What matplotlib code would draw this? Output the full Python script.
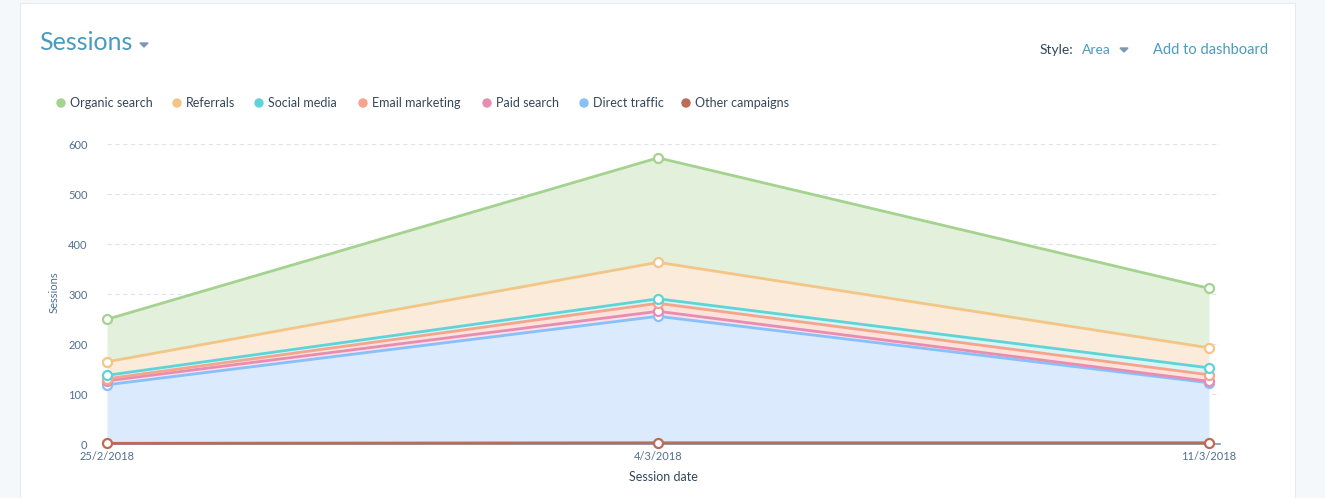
import numpy as np
import matplotlib.pyplot as plt
from matplotlib.patches import Rectangle, Polygon, Ellipse

# data (stack order bottom -> top)
dates = ['25/2/2018', '4/3/2018', '11/3/2018']
series = ['Other campaigns', 'Direct traffic', 'Paid search', 'Email marketing',
          'Social media', 'Referrals', 'Organic search']
other_campaigns = [2, 3, 3]
direct_traffic = [117, 253, 120]
paid_search = [8, 10, 3]
email_marketing = [4, 16, 13]
social_media = [7, 9, 14]
referrals = [27, 73, 40]
organic_search = [85, 209, 119]
y_ticks = [0, 100, 200, 300, 400, 500, 600]

colors = {
    'Organic search': '#a4d28f',
    'Referrals': '#f3c587',
    'Social media': '#5fd4d8',
    'Email marketing': '#f7a48c',
    'Paid search': '#e78db1',
    'Direct traffic': '#88c0fa',
    'Other campaigns': '#bc6b55',
}
fills = {
    'Organic search': '#e3f0dc',
    'Referrals': '#faebda',
    'Social media': '#d9f4f3',
    'Email marketing': '#fde3dc',
    'Paid search': '#f8dfe9',
    'Direct traffic': '#dbeafd',
    'Other campaigns': '#e9d3cd',
}
legend_order = ['Organic search', 'Referrals', 'Social media', 'Email marketing',
                'Paid search', 'Direct traffic', 'Other campaigns']

W, H = 1325, 498
fig = plt.figure(figsize=(W / 100, H / 100), dpi=100)
fig.patch.set_facecolor('#f5f8fa')
plt.rcParams['font.family'] = ['Lato', 'DejaVu Sans']


def fx(px):
    return px / W


def fy(py):
    return 1 - py / H


# white card
fig.patches.append(Rectangle((fx(20), 0), 1275 / W, 1 - 3 / H, transform=fig.transFigure,
                             facecolor='white', edgecolor='#e6ebf0', lw=0.8, zorder=-5))

ax = fig.add_axes([fx(107), fy(444.3), fx(1220) - fx(107), 300 / H])
ax.set_facecolor('none')
ax.set_zorder(2)

x = np.arange(len(dates))
data = {
    'Other campaigns': other_campaigns,
    'Direct traffic': direct_traffic,
    'Paid search': paid_search,
    'Email marketing': email_marketing,
    'Social media': social_media,
    'Referrals': referrals,
    'Organic search': organic_search,
}
base = np.zeros(len(dates))
tops = {}
for name in series:
    top = base + np.array(data[name], dtype=float)
    ax.fill_between(x, base, top, color=fills[name], lw=0, zorder=1)
    tops[name] = top
    base = top
for i, name in enumerate(series):
    ax.plot(x, tops[name], color=colors[name], lw=2, marker='o', ms=6.5,
            mfc='white', mec=colors[name], mew=1.6, zorder=3 + i, clip_on=False)

ax.set_xlim(0, 2 * (1220 - 107) / (1209 - 107))
ax.set_ylim(0, 600)
ax.set_yticks(y_ticks)
ax.set_xticks(x)
ax.set_xticklabels(dates)
ax.grid(axis='y', color='#dfe3eb', ls=(0, (4, 3)), lw=0.8)
ax.set_axisbelow(True)
for s in ['top', 'right', 'left']:
    ax.spines[s].set_visible(False)
ax.spines['bottom'].set_color('#7c98b6')
ax.spines['bottom'].set_linewidth(1.2)
ax.tick_params(axis='both', length=0, labelsize=8, labelcolor='#516f90')
ax.tick_params(axis='y', pad=14)
ax.tick_params(axis='x', pad=5)
ax.set_ylabel('Sessions', fontsize=8, color='#516f90')
ax.set_xlabel('Session date', fontsize=9, color='#33475b', labelpad=6)
ax.yaxis.set_label_coords(-(107 - 60) / (1220 - 107), (444.3 - 292) / 300)

# header
fig.text(fx(39), fy(42), 'Sessions', fontsize=18, color='#4a9bbf', va='center', ha='left')
fig.patches.append(Polygon([[fx(140), fy(43)], [fx(148), fy(43)], [fx(144), fy(47)]],
                           closed=True, transform=fig.transFigure, color='#7c98b6'))
fig.text(fx(1073), fy(50), 'Style:', fontsize=10, color='#33475b', va='center', ha='right')
fig.text(fx(1082), fy(50), 'Area', fontsize=10, color='#4a9bbf', va='center', ha='left')
fig.patches.append(Polygon([[fx(1120), fy(48)], [fx(1128), fy(48)], [fx(1124), fy(52)]],
                           closed=True, transform=fig.transFigure, color='#7c98b6'))
fig.text(fx(1153), fy(50), 'Add to dashboard', fontsize=10.5, color='#4a9bbf', va='center', ha='left')

# legend
legend_x = [61, 177, 259, 363, 487, 584, 686]
for name, lx in zip(legend_order, legend_x):
    fig.patches.append(Ellipse((fx(lx), fy(103)), 8 / W, 8 / H, transform=fig.transFigure,
                               color=colors[name]))
    fig.text(fx(lx + 9), fy(103), name, fontsize=9, color='#33475b', va='center', ha='left')

fig.savefig('out.png', dpi=100, facecolor=fig.get_facecolor())
